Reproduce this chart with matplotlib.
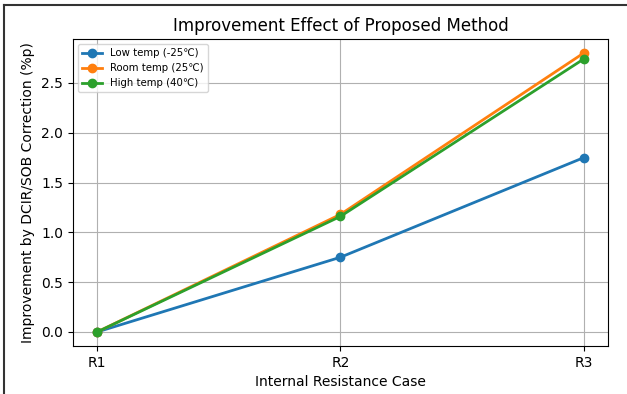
import matplotlib
matplotlib.use("Agg")
import matplotlib.pyplot as plt
from matplotlib.lines import Line2D

# -----------------------------------------------------------------

cases = ["R1", "R2", "R3"]
low_temp = [0.0, 0.75, 1.75]
room_temp = [0.0, 1.18, 2.80]
high_temp = [0.0, 1.16, 2.74]

labels = ["Low temp (-25℃)", "Room temp (25℃)", "High temp (40℃)"]

# -----------------------------------------------------------------

fig = plt.figure(figsize=(6.27, 3.94), dpi=100)
ax = fig.add_axes([0.116, 0.122, 0.854, 0.779])

for values, label in zip([low_temp, room_temp, high_temp], labels):
    ax.plot(cases, values, marker="o", linewidth=2, markersize=6, label=label)

ax.set_title("Improvement Effect of Proposed Method", fontsize=12)
ax.set_xlabel("Internal Resistance Case")
ax.set_ylabel("Improvement by DCIR/SOB Correction (%p)")
ax.grid(True)
ax.legend(loc="upper left", fontsize=7.3)

# frame of the screenshot (left and top edges only)
fig.add_artist(Line2D([0.006, 0.006], [0.0, 0.988], transform=fig.transFigure,
                      color="#333333", linewidth=1.5))
fig.add_artist(Line2D([0.006, 1.0], [0.988, 0.988], transform=fig.transFigure,
                      color="#333333", linewidth=1.5))

fig.savefig("out.png", dpi=100)
